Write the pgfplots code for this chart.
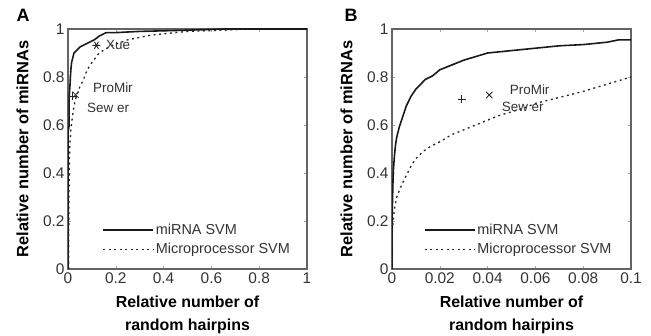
\documentclass[border=0pt]{standalone}
\usepackage{pgfplots}
\pgfplotsset{compat=1.18}
\usepackage{fontspec}
\setmainfont{Liberation Sans}
\definecolor{axgray}{RGB}{100,100,100}
\pgfplotsset{
  myaxis/.style={
    scale only axis, width=239bp, height=240bp,
    ymin=0, ymax=1, ytick={0,0.2,0.4,0.6,0.8,1},
    yticklabels={0,0.2,0.4,0.6,0.8,1},
    tick pos=both, tick align=inside, major tick length=3bp,
    axis line style={axgray, line width=1.1pt},
    tick style={black!35, line width=0.6pt},
    /pgf/number format/assume math mode=true,
    tick label style={font=\fontsize{15.5}{17}\selectfont, text=black!80},
    xlabel style={font=\fontsize{16}{23}\selectfont\bfseries, align=center, at={(axis description cs:0.5,-0.19)}, anchor=center},
    ylabel style={font=\fontsize{16.5}{18}\selectfont\bfseries, at={(axis description cs:-0.19,0.5)}, anchor=center},
    xlabel={Relative number of\\random hairpins},
    ylabel={Relative number of miRNAs},
    legend style={draw=none, fill=none, font=\fontsize{14.5}{16}\selectfont, row sep=3bp, text=black!80},
    legend cell align=left,
    legend image code/.code={\draw[##1] (0,0) -- (50bp,0);},
  }
}
\begin{document}
\begin{tikzpicture}
\useasboundingbox (0,0) rectangle (651bp,336bp);
\node[font=\fontsize{18}{20}\selectfont\bfseries, anchor=center] at (23bp,321bp) {A};
\node[font=\fontsize{18}{20}\selectfont\bfseries, anchor=center] at (351bp,321bp) {B};
\begin{axis}[myaxis, at={(68bp,67bp)}, anchor=south west,
  xmin=0, xmax=1, xtick={0,0.2,0.4,0.6,0.8,1}, xticklabels={0,0.2,0.4,0.6,0.8,1},
  legend style={at={(0.13,0.04)}, anchor=south west}]
\addplot[black!90, line width=1.6pt] coordinates {
(0,0) (0,0.57) (0.005,0.6) (0.005,0.72) (0.008,0.76) (0.01,0.8) (0.012,0.83) (0.015,0.86) (0.02,0.88) (0.025,0.9) (0.035,0.91) (0.05,0.925) (0.07,0.935) (0.09,0.945) (0.11,0.955) (0.13,0.97) (0.16,0.985) (0.2,0.985) (0.3,0.99) (0.5,0.995) (0.65,1) (1,1)};
\addlegendentry{miRNA SVM}
\addplot[black!85, line width=1.3pt, dash pattern=on 2bp off 3.5bp] coordinates {
(0.003,0) (0.004,0.3) (0.006,0.45) (0.008,0.52) (0.012,0.58) (0.018,0.63) (0.025,0.68) (0.035,0.72) (0.05,0.76) (0.065,0.79) (0.08,0.83) (0.1,0.86) (0.13,0.9) (0.18,0.93) (0.25,0.955) (0.35,0.975) (0.5,0.99) (0.65,0.995) (0.76,1)};
\addlegendentry{Microprocessor SVM}
\addplot[only marks, mark=asterisk, mark size=4bp, mark options={rotate=90, line width=0.9pt}, black!85, forget plot] coordinates {(0.119,0.932)};
\addplot[only marks, mark=x, mark size=4.5bp, mark options={line width=0.8pt}, black!85, forget plot] coordinates {(0.032,0.726)};
\addplot[only marks, mark=+, mark size=4bp, mark options={line width=0.8pt}, black!85, forget plot] coordinates {(0.02,0.72)};
\node[font=\fontsize{13.5}{15}\selectfont, text=black!80] at (axis cs:0.21,0.932) {Xue};
\node[font=\fontsize{13.5}{15}\selectfont, text=black!80] at (axis cs:0.188,0.754) {ProMir};
\node[font=\fontsize{13.5}{15}\selectfont, text=black!80] at (axis cs:0.168,0.67) {Sew er};
\end{axis}
\begin{axis}[myaxis, at={(392bp,67bp)}, anchor=south west,
  xmin=0, xmax=0.1, xtick={0,0.02,0.04,0.06,0.08,0.1}, xticklabels={0,0.02,0.04,0.06,0.08,0.1},
  scaled x ticks=false,
  legend style={at={(0.12,0.04)}, anchor=south west}]
\addplot[black!90, line width=1.6pt] coordinates {
(0,0) (0,0.2) (0.0005,0.4) (0.001,0.47) (0.0015,0.52) (0.002,0.55) (0.003,0.59) (0.004,0.62) (0.005,0.65) (0.006,0.68) (0.007,0.7) (0.008,0.72) (0.01,0.75) (0.012,0.77) (0.014,0.79) (0.017,0.805) (0.02,0.83) (0.025,0.85) (0.03,0.87) (0.035,0.885) (0.04,0.9) (0.045,0.905) (0.05,0.91) (0.06,0.92) (0.07,0.93) (0.08,0.935) (0.09,0.945) (0.095,0.955) (0.1,0.955)};
\addlegendentry{miRNA SVM}
\addplot[black!85, line width=1.3pt, dash pattern=on 2bp off 3.5bp] coordinates {
(0,0) (0,0.15) (0.001,0.25) (0.002,0.3) (0.004,0.35) (0.006,0.39) (0.008,0.43) (0.01,0.46) (0.013,0.49) (0.016,0.51) (0.02,0.53) (0.025,0.56) (0.03,0.58) (0.035,0.6) (0.04,0.62) (0.045,0.64) (0.05,0.655) (0.055,0.67) (0.06,0.69) (0.07,0.715) (0.08,0.74) (0.09,0.77) (0.1,0.8)};
\addlegendentry{Microprocessor SVM}
\addplot[only marks, mark=+, mark size=4bp, mark options={line width=0.8pt}, black!85, forget plot] coordinates {(0.0292,0.708)};
\addplot[only marks, mark=x, mark size=4.5bp, mark options={line width=0.8pt}, black!85, forget plot] coordinates {(0.0407,0.725)};
\node[font=\fontsize{13.5}{15}\selectfont, text=black!80] at (axis cs:0.0576,0.746) {ProMir};
\node[font=\fontsize{13.5}{15}\selectfont, text=black!80] at (axis cs:0.0547,0.675) {Sew er};
\end{axis}
\end{tikzpicture}
\end{document}
